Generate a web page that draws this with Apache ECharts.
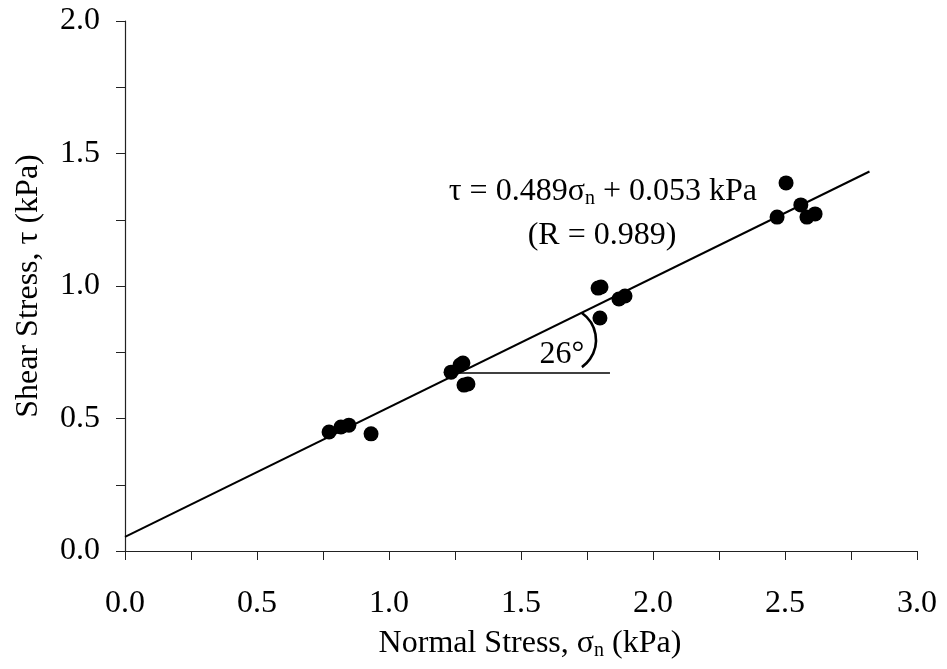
<!DOCTYPE html>
<html>
<head>
<meta charset="utf-8">
<script src="https://cdn.jsdelivr.net/npm/echarts@6/dist/echarts.min.js"></script>
<style>
  html, body { margin: 0; padding: 0; background: #fff; }
  #chart { width: 947px; height: 669px; }
</style>
</head>
<body>
<div id="chart"></div>
<script>
// measured points: normal stress vs shear stress (kPa)
const normalStress = [0.773, 0.818, 0.848, 0.932, 1.235, 1.269, 1.280, 1.284, 1.299,
  1.792, 1.803, 1.799, 1.871, 1.894, 2.470, 2.504, 2.560, 2.583, 2.614]
const shearStress = [0.449, 0.468, 0.475, 0.442, 0.675, 0.702, 0.709, 0.626, 0.630,
  0.992, 0.996, 0.879, 0.951, 0.962, 1.260, 1.389, 1.306, 1.260, 1.272]

// fitted line tau = 0.489 sigma + 0.053
const fitX = [0, 2.82]
const fitY = [0.053, 1.432]

// horizontal reference for the friction angle
const angleLineX = [1.266, 1.837]
const angleLineY = [0.672, 0.672]

const xTicks = ['0.0', '0.5', '1.0', '1.5', '2.0', '2.5', '3.0']
const yTicks = ['0.0', '0.5', '1.0', '1.5', '2.0']

const FONT = '"Liberation Serif", "Times New Roman", serif'
const INK = '#000'
const FS = 32

const chart = echarts.init(document.getElementById('chart'))

const subStyle = { fontFamily: FONT, fontSize: 20, color: INK, verticalAlign: 'bottom', padding: [14, 0, 0, 0] }

const axisCommon = {
  min: 0,
  interval: 0.5,
  axisLine: { show: true, lineStyle: { color: '#222', width: 1.2 } },
  axisTick: { show: true, inside: false, length: 9, lineStyle: { color: '#222' } },
  minorTick: { show: true, splitNumber: 2, length: 9, lineStyle: { color: '#222' } },
  splitLine: { show: false },
  nameLocation: 'middle'
}

chart.setOption({
  animation: false,
  backgroundColor: '#fff',
  grid: { left: 125, right: 30, top: 21, bottom: 118, containLabel: false },
  xAxis: Object.assign({}, axisCommon, {
    type: 'value',
    max: 3,
    name: 'Normal Stress, σ{sub|n} (kPa)',
    nameGap: 76,
    nameTextStyle: {
      fontFamily: FONT, fontSize: FS, color: INK,
      padding: [0, 0, 0, 18],
      rich: { sub: subStyle }
    },
    axisLabel: {
      margin: 37, fontFamily: FONT, fontSize: FS, color: INK,
      formatter: (v) => xTicks[Math.round(v / 0.5)]
    }
  }),
  yAxis: Object.assign({}, axisCommon, {
    type: 'value',
    max: 2,
    name: 'Shear Stress, τ (kPa)',
    nameGap: 80,
    nameTextStyle: { fontFamily: FONT, fontSize: FS, color: INK },
    axisLabel: {
      margin: 25, fontFamily: FONT, fontSize: FS, color: INK,
      formatter: (v) => yTicks[Math.round(v / 0.5)]
    }
  }),
  series: [
    {
      type: 'line',
      data: fitX.map((x, i) => [x, fitY[i]]),
      symbol: 'none',
      lineStyle: { color: INK, width: 2 },
      z: 2
    },
    {
      type: 'line',
      data: angleLineX.map((x, i) => [x, angleLineY[i]]),
      symbol: 'none',
      lineStyle: { color: INK, width: 1.5 },
      z: 2
    },
    {
      type: 'scatter',
      data: normalStress.map((x, i) => [x, shearStress[i]]),
      symbol: 'circle',
      symbolSize: 15,
      itemStyle: { color: INK, opacity: 1 },
      z: 3
    }
  ]
})

// annotations placed in data coordinates
function drawAnnotations() {
  const toPx = (p) => chart.convertToPixel({ gridIndex: 0 }, p)
  const arcC = toPx([1.659, 0.796])
  const eq = toPx([1.81, 1.355])
  const rr = toPx([1.807, 1.189])
  const deg = toPx([1.655, 0.74])
  chart.setOption({
    graphic: [
      {
        type: 'arc',
        shape: { cx: arcC[0], cy: arcC[1], r: 33, startAngle: -55 * Math.PI / 180, endAngle: 55 * Math.PI / 180 },
        style: { stroke: INK, lineWidth: 2.6, fill: null },
        z: 10
      },
      {
        type: 'text',
        x: eq[0], y: eq[1],
        style: {
          text: 'τ = 0.489σ{sub|n} + 0.053 kPa',
          fontFamily: FONT, fontSize: FS, fill: INK,
          align: 'center', verticalAlign: 'middle',
          rich: { sub: { fontFamily: FONT, fontSize: 20, fill: INK, verticalAlign: 'bottom', padding: [14, 0, 0, 0] } }
        },
        z: 10
      },
      {
        type: 'text',
        x: rr[0], y: rr[1],
        style: { text: '(R = 0.989)', fontFamily: FONT, fontSize: FS, fill: INK, align: 'center', verticalAlign: 'middle' },
        z: 10
      },
      {
        type: 'text',
        x: deg[0], y: deg[1],
        style: { text: '26°', fontFamily: FONT, fontSize: FS, fill: INK, align: 'center', verticalAlign: 'middle' },
        z: 10
      }
    ]
  })
}
drawAnnotations()
</script>
</body>
</html>
